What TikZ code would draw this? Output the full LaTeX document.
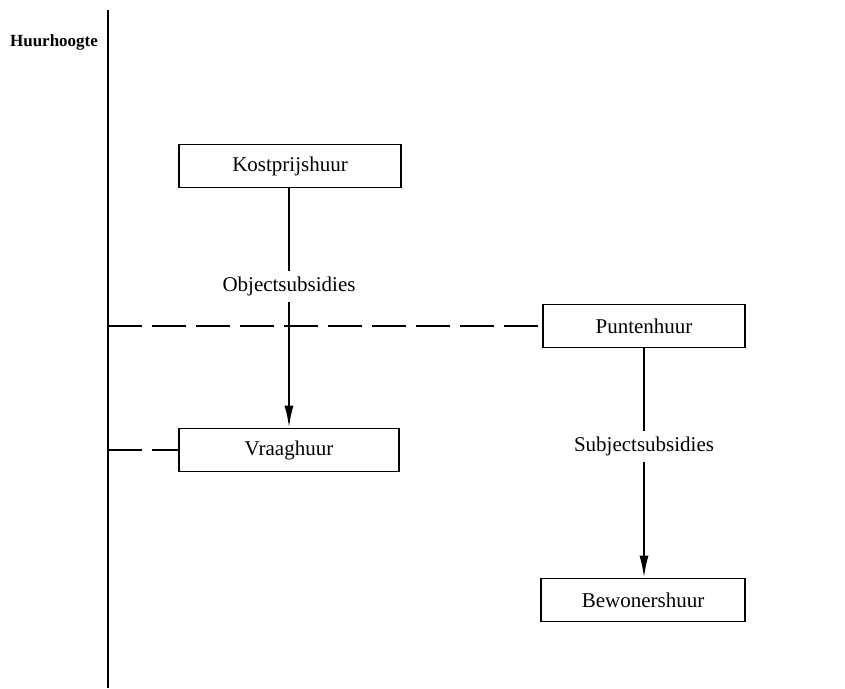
\documentclass[tikz,border=0pt]{standalone}
\usepackage{fontspec}
\setmainfont{Liberation Serif}
\usetikzlibrary{arrows.meta}

\tikzset{huur box/.style={
    	draw, line width=0.8pt,
    	minimum width=#1, minimum height=21.5pt,
    	font=\fontsize{10.5}{12}\selectfont
  	},
	subsidie/.style={fill=white, inner sep=3pt, font=\fontsize{10.5}{12}\selectfont},
	huur arrow/.style={line width=1pt, -{Latex[length=11pt, width=4.5pt]}}
}

\begin{document}
\begin{tikzpicture}[x=0.5pt, y=-0.5pt]
		\useasboundingbox (0,0) rectangle (845,689);
		% as
		\coordinate (axtop) at (108,10);
		\coordinate (axbot) at (108,688);
		\draw [line width=1pt] (axtop) -- (axbot);
		\node [font=\bfseries\fontsize{8.5}{10}\selectfont] (label) at (54,42) {Huurhoogte};
		% huren
		\node [huur box=111pt] (kost) at (290,166) {Kostprijshuur};
		\node [huur box=110pt] (vraag) at (289,450) {Vraaghuur};
		\node [huur box=101pt] (punten) at (644,326) {Puntenhuur};
		\node [huur box=102pt] (bewoners) at (643,600) {Bewonershuur};
		% subsidies
		\draw [huur arrow] (kost.south -| vraag.north) -- node [subsidie, pos=0.41] (obj) {Objectsubsidies} (vraag.north);
		\draw [huur arrow] (punten.south) -- node [subsidie, pos=0.43] (subj) {Subjectsubsidies} (punten.south |- bewoners.north);
		\foreach \n in {punten, vraag}
			\draw [line width=0.8pt, dash pattern=on 17pt off 5pt] (axtop |- \n.west) -- (\n.west);
	\end{tikzpicture}
\end{document}
